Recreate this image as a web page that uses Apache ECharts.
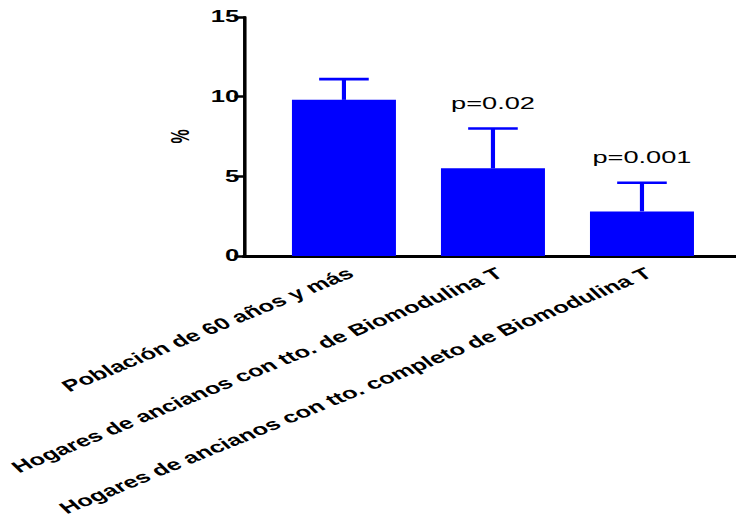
<!DOCTYPE html>
<html>
<head>
<meta charset="utf-8">
<script src="https://cdn.jsdelivr.net/npm/echarts@6/dist/echarts.min.js"></script>
<style>
  html, body { margin: 0; padding: 0; background: #fff; overflow: hidden; }
  /* the source figure is stretched sideways, so draw narrow and widen it */
  #graph01 { width: 460px; height: 524px; transform: scaleX(1.6); transform-origin: 0 0; }
</style>
</head>
<body>
<div id="graph01"></div>
<script>
var categories = [
    'Población de 60 años y más',
    'Hogares de ancianos con tto. de Biomodulina T',
    'Hogares de ancianos con tto. completo de Biomodulina T'
];
var means = [9.8, 5.5, 2.8];
var sd = [1.3, 2.5, 1.8];
var pLabels = ['', 'p=0.02', 'p=0.001'];
var yTicks = [0, 5, 10, 15];

var myChart = echarts.init(document.getElementById('graph01'), null, { renderer: 'svg' });
var font = "'Liberation Sans', Arial, sans-serif";

var errData = means.map(function (m, i) { return [i, m, m + sd[i]]; });

var option = {
    animation: false,
    grid: [
        { left: 168.4, right: 12.2, top: 17, bottom: 268, containLabel: false, outerBoundsMode: 'none' },
        { left: 152.5, right: 0, top: 17, bottom: 268, containLabel: false, outerBoundsMode: 'none' }
    ],
    xAxis: [
        {
            type: 'category',
            data: categories,
            gridIndex: 0,
            axisLine: { lineStyle: { color: '#000', width: 3 } },
            axisTick: { alignWithLabel: true, length: 8, lineStyle: { color: '#000', width: 2 } },
            axisLabel: {
                interval: 0,
                rotate: 33,
                margin: 9,
                verticalAlign: 'top',
                color: '#000',
                fontFamily: font,
                fontWeight: 'bold',
                fontSize: 16
            }
        },
        {
            type: 'value',
            gridIndex: 1,
            min: 0,
            max: 1,
            axisLine: { show: true, lineStyle: { color: '#000', width: 3 } },
            axisTick: { show: false },
            axisLabel: { show: false },
            splitLine: { show: false }
        }
    ],
    yAxis: [
        {
            type: 'value',
            gridIndex: 0,
            min: yTicks[0],
            max: yTicks[yTicks.length - 1],
            interval: 5,
            offset: 15.9,
            name: '%',
            nameLocation: 'middle',
            nameGap: 30,
            nameRotate: 90,
            nameTextStyle: { color: '#000', fontFamily: font, fontWeight: 'bold', fontSize: 16 },
            axisLine: { show: true, lineStyle: { color: '#000', width: 2.2 } },
            axisTick: { show: true, length: 6, lineStyle: { color: '#000', width: 2.5 } },
            axisLabel: { margin: 3, color: '#000', fontFamily: font, fontWeight: 'bold', fontSize: 16 },
            splitLine: { show: false }
        },
        { type: 'value', gridIndex: 1, show: false }
    ],
    series: [
        {
            type: 'bar',
            data: means,
            barWidth: 65,
            itemStyle: { color: '#0000ff' },
            z: 2
        },
        {
            type: 'custom',
            data: errData,
            z: 3,
            renderItem: function (params, api) {
                var base = api.coord([api.value(0), api.value(1)]);
                var top = api.coord([api.value(0), api.value(2)]);
                var half = 15.5;
                var style = { stroke: '#0000ff', lineWidth: 2.6 };
                return {
                    type: 'group',
                    children: [
                        { type: 'line', shape: { x1: base[0], y1: base[1], x2: top[0], y2: top[1] }, style: style },
                        { type: 'line', shape: { x1: top[0] - half, y1: top[1], x2: top[0] + half, y2: top[1] }, style: style },
                        {
                            type: 'text',
                            x: top[0],
                            y: top[1] - 17,
                            style: {
                                text: pLabels[params.dataIndex],
                                fill: '#000',
                                font: '17px ' + font,
                                align: 'center',
                                verticalAlign: 'bottom'
                            }
                        }
                    ]
                };
            }
        }
    ]
};
myChart.setOption(option);
</script>
</body>
</html>
